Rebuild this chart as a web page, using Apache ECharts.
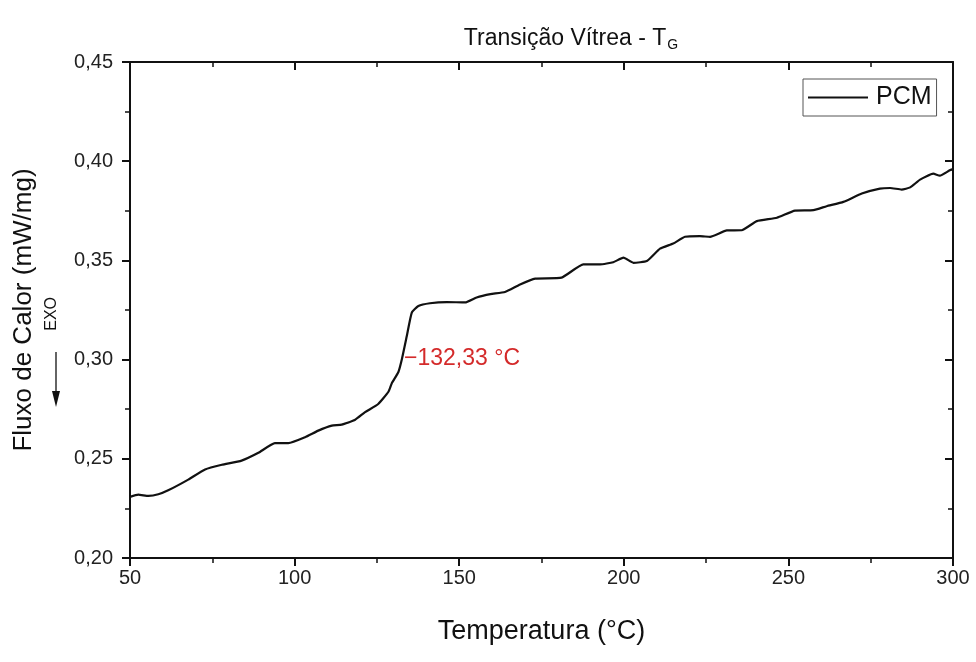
<!DOCTYPE html>
<html>
<head>
<meta charset="utf-8">
<script src="https://cdn.jsdelivr.net/npm/echarts@6/dist/echarts.min.js"></script>
<style>html,body{margin:0;padding:0;background:#fff}#c{width:976px;height:662px}</style>
</head>
<body>
<div id="c"></div>
<script>
const temperature = [50,52.5,55.6,58.6,61.6,67.7,72.8,77.9,83.9,89,94,98.1,103.2,107.2,111.3,114.3,118.4,121.4,125.4,128.5,129.5,131.5,132.6,134.1,135.6,137.6,141.1,146.2,151.8,155.3,159.5,163.9,168.5,173.1,181.1,187.7,192.8,196.8,199.9,202.9,207,211,215,218.6,223.1,226.2,231.3,235.8,240.4,246.5,252,257.6,261.6,266.7,272.3,277.8,280.9,284.4,287,290,294,296,299,300];
const heatFlow = [0.2308,0.2319,0.2313,0.2321,0.2341,0.2395,0.2446,0.2470,0.2491,0.2530,0.2579,0.2579,0.2609,0.2642,0.2667,0.2672,0.2697,0.2735,0.2776,0.2838,0.2880,0.2936,0.3003,0.3120,0.3237,0.3270,0.3284,0.3290,0.3288,0.3313,0.3330,0.3341,0.3379,0.3408,0.3413,0.3480,0.3480,0.3491,0.3514,0.3488,0.3497,0.3559,0.3585,0.3619,0.3622,0.3619,0.3651,0.3652,0.3698,0.3715,0.3751,0.3753,0.3773,0.3795,0.3837,0.3862,0.3865,0.3857,0.3868,0.3907,0.3937,0.3927,0.3954,0.3960];
const xTicks = [50,100,150,200,250,300];
const yTicks = [0.20,0.25,0.30,0.35,0.40,0.45];
const seriesName = 'PCM';
const tgValue = 132.33;
const tgFlow = 0.300;

const FONT = 'Arial, "Liberation Sans", sans-serif';
const fmtY = v => v.toFixed(2).replace('.', ',');
const chart = echarts.init(document.getElementById('c'), null, {renderer:'canvas'});
const axisLine = {show:true, onZero:false, lineStyle:{color:'#111', width:2}};
const tickStyle = {color:'#111', width:2};
const minorStyle = {color:'#111', width:1.5};
chart.setOption({
  backgroundColor:'#fff',
  animation:false,
  title:{
    text:'{a|Transição Vítrea - T}{s|G}',
    left:566, top:20, textAlign:'center',
    textStyle:{rich:{
      a:{fontFamily:FONT, fontSize:23, fontWeight:'normal', color:'#111', lineHeight:28},
      s:{fontFamily:FONT, fontSize:14, fontWeight:'normal', color:'#111', padding:[12,0,0,1], lineHeight:28}
    }}
  },
  legend:{
    data:[seriesName], left:803, top:79,
    orient:'vertical',
    itemWidth:60, itemHeight:2, itemGap:0,
    icon:'rect',
    borderColor:'#555', borderWidth:1, borderRadius:0,
    padding:[6,5,6,5],
    textStyle:{fontFamily:FONT, fontSize:25, color:'#111', padding:[0,0,0,3]}
  },
  grid:{left:130, right:23, top:62, bottom:104},
  xAxis:[{
    type:'value', min:xTicks[0], max:xTicks[xTicks.length-1], interval:50,
    position:'bottom', axisLine, splitLine:{show:false},
    name:'Temperatura (°C)', nameLocation:'middle', nameGap:60,
    nameTextStyle:{fontFamily:FONT, fontSize:27, color:'#111'},
    axisTick:{show:true, inside:false, length:8, lineStyle:tickStyle},
    minorTick:{show:true, splitNumber:2, length:5, lineStyle:minorStyle},
    axisLabel:{fontFamily:FONT, fontSize:20, color:'#222', margin:10}
  },{
    type:'value', min:xTicks[0], max:xTicks[xTicks.length-1], interval:50,
    position:'top', axisLine, splitLine:{show:false},
    axisTick:{show:true, inside:true, length:8, lineStyle:tickStyle},
    minorTick:{show:true, splitNumber:2, length:5, lineStyle:minorStyle},
    axisLabel:{show:false}
  }],
  yAxis:[{
    type:'value', min:yTicks[0], max:yTicks[yTicks.length-1], interval:0.05,
    position:'left', axisLine, splitLine:{show:false},
    name:'Fluxo de Calor (mW/mg)', nameLocation:'middle', nameGap:93,
    nameTextStyle:{fontFamily:FONT, fontSize:26, color:'#111'},
    axisTick:{show:true, inside:false, length:8, lineStyle:tickStyle},
    minorTick:{show:true, splitNumber:2, length:5, lineStyle:minorStyle},
    axisLabel:{fontFamily:FONT, fontSize:20, color:'#222', margin:17, formatter:fmtY}
  },{
    type:'value', min:yTicks[0], max:yTicks[yTicks.length-1], interval:0.05,
    position:'right', axisLine, splitLine:{show:false},
    axisTick:{show:true, inside:true, length:8, lineStyle:tickStyle},
    minorTick:{show:true, splitNumber:2, length:5, lineStyle:minorStyle},
    axisLabel:{show:false}
  }],
  series:[{
    name:seriesName, type:'line', xAxisIndex:0, yAxisIndex:0,
    data: temperature.map((t,i)=>[t, heatFlow[i]]),
    showSymbol:false, symbol:'none', smooth:0.15,
    lineStyle:{color:'#111', width:2.2},
    itemStyle:{color:'#111'},
    markPoint:{
      symbol:'rect', symbolSize:[0,0],
      data:[{coord:[tgValue, tgFlow], value:tgValue}],
      label:{
        show:true, position:'right', distance:3, offset:[0,-1],
        formatter:()=> '−' + tgValue.toFixed(2).replace('.', ',') + ' °C',
        fontFamily:FONT, fontSize:23, color:'#d42a2a'
      }
    }
  }],
  graphic:[
    {type:'text', left:44, top:297, rotation:Math.PI/2,
     style:{text:'EXO', fontFamily:FONT, fontSize:16, fill:'#111'}},
    {type:'line', shape:{x1:56, y1:352, x2:56, y2:395}, style:{stroke:'#111', lineWidth:1.3}},
    {type:'polygon', shape:{points:[[52,391],[60,391],[56,407]]}, style:{fill:'#111'}}
  ]
});
</script>
</body>
</html>
